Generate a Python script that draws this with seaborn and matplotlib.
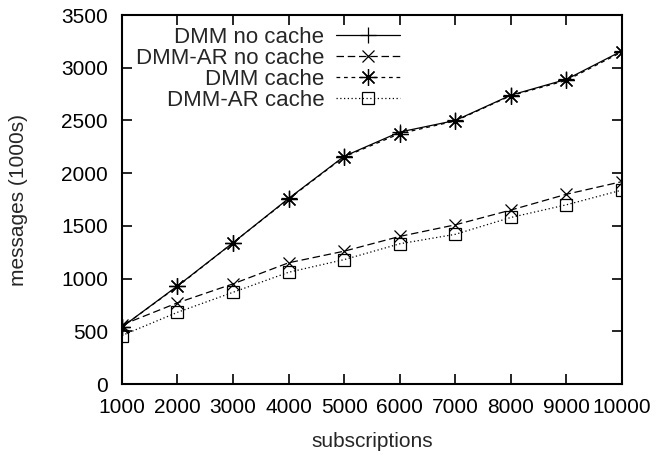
import matplotlib
matplotlib.use("Agg")
import matplotlib.pyplot as plt
import seaborn as sns
import pandas as pd

subscriptions = [1000, 2000, 3000, 4000, 5000, 6000, 7000, 8000, 9000, 10000]
dmm_no_cache = [540, 930, 1340, 1760, 2160, 2390, 2500, 2740, 2890, 3160]
dmm_ar_no_cache = [560, 770, 950, 1150, 1260, 1400, 1510, 1650, 1800, 1920]
dmm_cache = [540, 925, 1340, 1755, 2155, 2375, 2495, 2735, 2880, 3150]
dmm_ar_cache = [460, 680, 870, 1060, 1180, 1330, 1420, 1580, 1700, 1840]

series = [
    ("DMM no cache", dmm_no_cache, "-", "+", 11),
    ("DMM-AR no cache", dmm_ar_no_cache, (0, (6, 3)), "x", 9),
    ("DMM cache", dmm_cache, (0, (3, 3)), (8, 2, 0), 12),
    ("DMM-AR cache", dmm_ar_cache, (0, (1, 2)), "s", 9),
]

sns.set_style("ticks")
plt.rcParams["font.family"] = ["Liberation Sans", "DejaVu Sans"]

fig = plt.figure(figsize=(6.66, 4.55), dpi=100)
ax = fig.add_axes([0.183, 0.156, 0.751, 0.811])

for name, vals, ls, mk, ms in series:
    df = pd.DataFrame({"subscriptions": subscriptions, "messages": vals})
    sns.lineplot(data=df, x="subscriptions", y="messages", ax=ax, color="black",
                 linestyle=ls, linewidth=0.9, marker=mk, markersize=ms,
                 markerfacecolor="none", markeredgecolor="black",
                 markeredgewidth=0.9, label=name)

ax.set_xlim(1000, 10000)
ax.set_ylim(0, 3500)
ax.set_xticks(subscriptions)
ax.set_yticks(range(0, 3501, 500))
ax.tick_params(direction="in", length=7, width=1.2, labelsize=15,
               top=True, right=True, pad=10, colors="black")
for sp in ax.spines.values():
    sp.set_linewidth(1.5)
    sp.set_color("black")
ax.set_xlabel("subscriptions", fontsize=15, labelpad=11)
ax.set_ylabel("messages (1000s)", fontsize=15, labelpad=24)

leg = ax.legend(loc="upper right", bbox_to_anchor=(0.556, 0.968), markerfirst=False,
                frameon=False, fontsize=16, handlelength=2.9, labelspacing=0.0,
                handletextpad=0.5, borderaxespad=0.0, borderpad=0.0)

fig.savefig("out.png", dpi=100)
